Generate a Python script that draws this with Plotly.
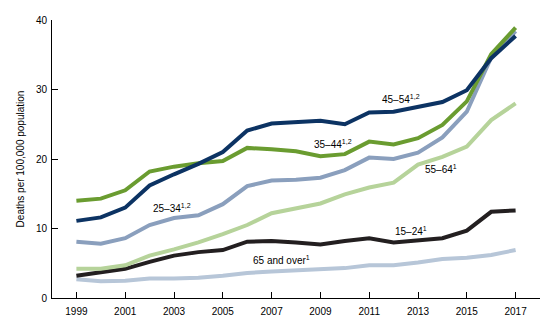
import plotly.graph_objects as go

years = list(range(1999, 2018))

age_45_54 = [11.1, 11.6, 13.0, 16.2, 17.8, 19.3, 21.0, 24.1, 25.1, 25.3, 25.5, 25.0, 26.7, 26.8, 27.5, 28.2, 29.9, 34.5, 37.7]
age_35_44 = [14.0, 14.3, 15.5, 18.2, 18.9, 19.4, 19.7, 21.6, 21.4, 21.1, 20.4, 20.7, 22.5, 22.1, 23.0, 24.9, 28.3, 35.1, 38.9]
age_25_34 = [8.1, 7.8, 8.6, 10.5, 11.5, 11.9, 13.5, 16.1, 16.9, 17.0, 17.3, 18.4, 20.2, 20.0, 20.9, 23.1, 26.8, 34.6, 38.4]
age_55_64 = [4.2, 4.2, 4.7, 6.1, 7.0, 8.0, 9.2, 10.5, 12.2, 12.9, 13.6, 14.9, 15.9, 16.6, 19.2, 20.3, 21.8, 25.6, 28.0]
age_15_24 = [3.2, 3.7, 4.2, 5.2, 6.1, 6.6, 6.9, 8.1, 8.2, 8.0, 7.7, 8.2, 8.6, 8.0, 8.3, 8.6, 9.7, 12.4, 12.6]
age_65_up = [2.7, 2.4, 2.5, 2.8, 2.8, 2.9, 3.2, 3.6, 3.8, 4.0, 4.2, 4.3, 4.7, 4.7, 5.1, 5.6, 5.8, 6.2, 6.9]

x_ticks = list(range(1999, 2018, 2))
y_ticks = [0, 10, 20, 30, 40]

series = [
    ("65 and over", age_65_up, "#b7c6d8"),
    ("15–24", age_15_24, "#231f20"),
    ("55–64", age_55_64, "#b6d39a"),
    ("25–34", age_25_34, "#8a9fbd"),
    ("35–44", age_35_44, "#6a9c30"),
    ("45–54", age_45_54, "#0c3363"),
]

labels = [
    ("25–34<sup>1,2</sup>", 2002.9, 12.95),
    ("45–54<sup>1,2</sup>", 2012.3, 28.6),
    ("35–44<sup>1,2</sup>", 2009.5, 22.2),
    ("55–64<sup>1</sup>", 2013.95, 18.6),
    ("15–24<sup>1</sup>", 2012.7, 9.6),
    ("65 and over<sup>1</sup>", 2007.4, 5.5),
]

FONT = "Arial, Liberation Sans, sans-serif"

fig = go.Figure()
for name, vals, color in series:
    fig.add_trace(go.Scatter(x=years, y=vals, mode="lines", name=name,
                             line=dict(color=color, width=4), showlegend=False))

for text, x, y in labels:
    fig.add_annotation(x=x, y=y, xref="x", yref="y", text=text, showarrow=False,
                       font=dict(size=10, color="#000000", family=FONT))

fig.update_layout(
    width=560, height=332,
    margin=dict(l=52, r=20, t=20, b=34),
    paper_bgcolor="white", plot_bgcolor="white",
    font=dict(family=FONT, size=10, color="#000000"),
)
fig.update_xaxes(range=[1998, 2018], tickvals=x_ticks, ticks="inside", ticklen=6,
                 tickcolor="black", showline=True, linecolor="black", linewidth=1,
                 showgrid=False, zeroline=False, tickfont=dict(size=10, family=FONT),
                 ticklabelstandoff=4)
fig.update_yaxes(range=[0, 40], tickvals=y_ticks, ticks="inside", ticklen=6,
                 tickcolor="black", showline=True, linecolor="black", linewidth=1,
                 showgrid=False, zeroline=False, tickfont=dict(size=10, family=FONT),
                 ticklabelstandoff=2,
                 title=dict(text="Deaths per 100,000 population", font=dict(size=10, family=FONT), standoff=9))

fig.write_html("out.html")
